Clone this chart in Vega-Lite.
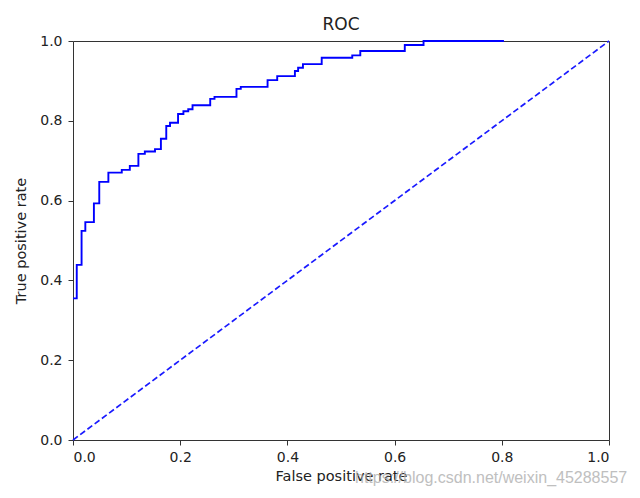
{
  "$schema": "https://vega.github.io/schema/vega-lite/v6.json",
  "width": 536,
  "height": 399,
  "autosize": {"type": "none"},
  "padding": {"left": 73, "top": 41, "right": 31, "bottom": 58},
  "background": "white",
  "title": {"text": "ROC", "fontSize": 17, "font": "DejaVu Sans", "fontWeight": "normal", "color": "#222", "offset": 0},
  "config": {
    "view": {"stroke": "#333", "strokeWidth": 1},
    "axis": {
      "grid": false, "domain": false, "tickColor": "#333", "tickSize": 5, "tickWidth": 1,
      "labelFont": "DejaVu Sans", "labelFontSize": 14, "labelColor": "#222",
      "titleFont": "DejaVu Sans", "titleFontSize": 14.5, "titleFontWeight": "normal", "titleColor": "#222"
    }
  },
  "datasets": {
    "roc": [
      {"i": 1, "fpr": 0.0, "tpr": 0.355},
      {"i": 2, "fpr": 0.007, "tpr": 0.355},
      {"i": 3, "fpr": 0.007, "tpr": 0.439},
      {"i": 4, "fpr": 0.016, "tpr": 0.439},
      {"i": 5, "fpr": 0.016, "tpr": 0.524},
      {"i": 6, "fpr": 0.023, "tpr": 0.524},
      {"i": 7, "fpr": 0.023, "tpr": 0.546},
      {"i": 8, "fpr": 0.039, "tpr": 0.546},
      {"i": 9, "fpr": 0.039, "tpr": 0.593},
      {"i": 10, "fpr": 0.049, "tpr": 0.593},
      {"i": 11, "fpr": 0.049, "tpr": 0.647},
      {"i": 12, "fpr": 0.066, "tpr": 0.647},
      {"i": 13, "fpr": 0.066, "tpr": 0.670},
      {"i": 14, "fpr": 0.091, "tpr": 0.670},
      {"i": 15, "fpr": 0.091, "tpr": 0.677},
      {"i": 16, "fpr": 0.106, "tpr": 0.677},
      {"i": 17, "fpr": 0.106, "tpr": 0.687},
      {"i": 18, "fpr": 0.122, "tpr": 0.687},
      {"i": 19, "fpr": 0.122, "tpr": 0.717},
      {"i": 20, "fpr": 0.134, "tpr": 0.717},
      {"i": 21, "fpr": 0.134, "tpr": 0.723},
      {"i": 22, "fpr": 0.153, "tpr": 0.723},
      {"i": 23, "fpr": 0.153, "tpr": 0.729},
      {"i": 24, "fpr": 0.164, "tpr": 0.729},
      {"i": 25, "fpr": 0.164, "tpr": 0.755},
      {"i": 26, "fpr": 0.174, "tpr": 0.755},
      {"i": 27, "fpr": 0.174, "tpr": 0.787},
      {"i": 28, "fpr": 0.181, "tpr": 0.787},
      {"i": 29, "fpr": 0.181, "tpr": 0.795},
      {"i": 30, "fpr": 0.196, "tpr": 0.795},
      {"i": 31, "fpr": 0.196, "tpr": 0.817},
      {"i": 32, "fpr": 0.206, "tpr": 0.817},
      {"i": 33, "fpr": 0.206, "tpr": 0.824},
      {"i": 34, "fpr": 0.215, "tpr": 0.824},
      {"i": 35, "fpr": 0.215, "tpr": 0.829},
      {"i": 36, "fpr": 0.223, "tpr": 0.829},
      {"i": 37, "fpr": 0.223, "tpr": 0.839},
      {"i": 38, "fpr": 0.256, "tpr": 0.839},
      {"i": 39, "fpr": 0.256, "tpr": 0.855},
      {"i": 40, "fpr": 0.264, "tpr": 0.855},
      {"i": 41, "fpr": 0.264, "tpr": 0.860},
      {"i": 42, "fpr": 0.305, "tpr": 0.860},
      {"i": 43, "fpr": 0.305, "tpr": 0.880},
      {"i": 44, "fpr": 0.313, "tpr": 0.880},
      {"i": 45, "fpr": 0.313, "tpr": 0.885},
      {"i": 46, "fpr": 0.363, "tpr": 0.885},
      {"i": 47, "fpr": 0.363, "tpr": 0.902},
      {"i": 48, "fpr": 0.381, "tpr": 0.902},
      {"i": 49, "fpr": 0.381, "tpr": 0.912},
      {"i": 50, "fpr": 0.414, "tpr": 0.912},
      {"i": 51, "fpr": 0.414, "tpr": 0.925},
      {"i": 52, "fpr": 0.420, "tpr": 0.925},
      {"i": 53, "fpr": 0.420, "tpr": 0.933},
      {"i": 54, "fpr": 0.429, "tpr": 0.933},
      {"i": 55, "fpr": 0.429, "tpr": 0.942},
      {"i": 56, "fpr": 0.464, "tpr": 0.942},
      {"i": 57, "fpr": 0.464, "tpr": 0.958},
      {"i": 58, "fpr": 0.521, "tpr": 0.958},
      {"i": 59, "fpr": 0.521, "tpr": 0.964},
      {"i": 60, "fpr": 0.536, "tpr": 0.964},
      {"i": 61, "fpr": 0.536, "tpr": 0.975},
      {"i": 62, "fpr": 0.619, "tpr": 0.975},
      {"i": 63, "fpr": 0.619, "tpr": 0.990},
      {"i": 64, "fpr": 0.654, "tpr": 0.990},
      {"i": 65, "fpr": 0.654, "tpr": 1.0},
      {"i": 66, "fpr": 0.804, "tpr": 1.0}
    ],
    "diag": [
      {"i": 0, "fpr": 0, "tpr": 0},
      {"i": 1, "fpr": 1, "tpr": 1}
    ],
    "wm": [
      {"fpr": 1.034, "tpr": -0.095, "t": "https://blog.csdn.net/weixin_45288557"}
    ]
  },
  "layer": [
    {
      "data": {"name": "diag"},
      "mark": {"type": "line", "color": "#1a1aff", "strokeWidth": 1.7, "strokeDash": [6, 3]},
      "encoding": {
        "x": {"field": "fpr", "type": "quantitative", "scale": {"domain": [0, 1], "nice": false},
              "axis": {"values": [0, 0.2, 0.4, 0.6, 0.8, 1.0], "format": ".1f", "title": "False positive rate", "labelPadding": 5, "titlePadding": 5}},
        "y": {"field": "tpr", "type": "quantitative", "scale": {"domain": [0, 1], "nice": false},
              "axis": {"values": [0, 0.2, 0.4, 0.6, 0.8, 1.0], "format": ".1f", "title": "True positive rate", "labelPadding": 6, "titlePadding": 11}},
        "order": {"field": "i", "type": "quantitative"}
      }
    },
    {
      "data": {"name": "roc"},
      "mark": {"type": "line", "color": "#0000ff", "strokeWidth": 1.9},
      "encoding": {
        "x": {"field": "fpr", "type": "quantitative"},
        "y": {"field": "tpr", "type": "quantitative"},
        "order": {"field": "i", "type": "quantitative"}
      }
    },
    {
      "data": {"name": "wm"},
      "mark": {"type": "text", "align": "right", "baseline": "middle", "font": "Liberation Sans", "fontSize": 16, "color": "#b0b0b0", "opacity": 0.8},
      "encoding": {
        "x": {"field": "fpr", "type": "quantitative"},
        "y": {"field": "tpr", "type": "quantitative"},
        "text": {"field": "t"}
      }
    }
  ]
}
